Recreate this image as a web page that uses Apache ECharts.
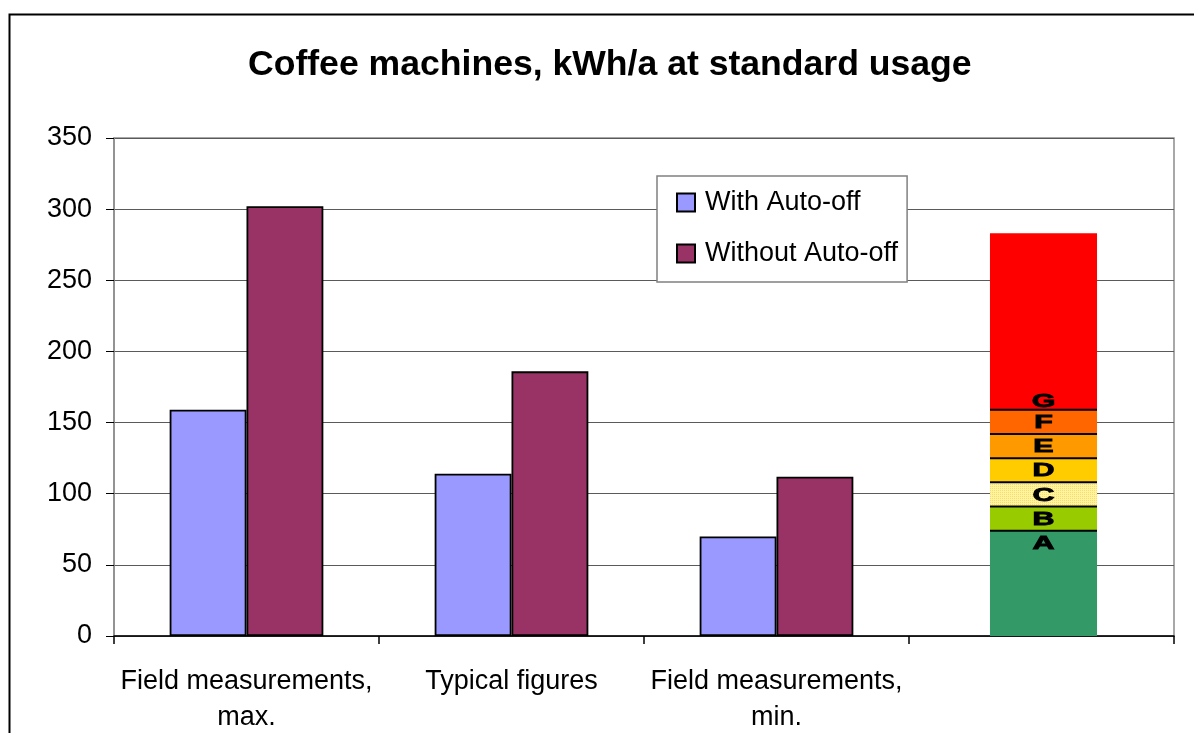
<!DOCTYPE html>
<html>
<head>
<meta charset="utf-8">
<script src="https://cdn.jsdelivr.net/npm/echarts@6/dist/echarts.min.js"></script>
<style>
html,body{margin:0;padding:0;background:#fff;}
#chart{width:1194px;height:733px;}
</style>
</head>
<body>
<div id="chart"></div>
<script>
// ---- data ----
const categories = ['Field measurements,\nmax.', 'Typical figures', 'Field measurements,\nmin.', ''];
const withAutoOff = [159, 114, 70, null];
const withoutAutoOff = [302, 186, 112, null];
const gradeLabels = ['A', 'B', 'C', 'D', 'E', 'F', 'G'];
const gradeValues = [74, 17, 17, 17, 17, 17, 124];
const gradeCategory = 3;
const yTicks = { min: 0, max: 350, interval: 50 };

// ---- styles ----
const FONT = '"Liberation Sans", Arial, sans-serif';
const gradeColors = ['#339966', '#99CC00', 'patternC', '#FFCC00', '#FF9900', '#FF6600', '#FF0000'];

function makePattern() {
  const c = document.createElement('canvas');
  c.width = 4; c.height = 4;
  const ctx = c.getContext('2d');
  ctx.fillStyle = '#FFF3A8';
  ctx.fillRect(0, 0, 4, 4);
  ctx.fillStyle = '#FFDD55';
  ctx.fillRect(0, 0, 1, 1); ctx.fillRect(2, 2, 1, 1);
  ctx.fillRect(2, 0, 1, 1); ctx.fillRect(0, 2, 1, 1);
  return { image: c, repeat: 'repeat' };
}
const patternC = makePattern();

// cumulative ranges for the grade stack
const gradeData = [];
let acc = 0;
gradeValues.forEach((v, i) => {
  gradeData.push([gradeCategory, acc, acc + v, i]);
  acc += v;
});

const chart = echarts.init(document.getElementById('chart'));
chart.setOption({
  animation: false,
  backgroundColor: '#fff',
  textStyle: { fontFamily: FONT },
  title: {
    text: 'Coffee machines, kWh/a at standard usage',
    left: 248,
    top: 47,
    padding: 0,
    textStyle: { fontFamily: FONT, fontSize: 35.6, fontWeight: 'bold', color: '#000' }
  },
  graphic: [{
    type: 'rect',
    left: 7, top: 12,
    shape: { width: 1210, height: 740 },
    style: { fill: 'none', stroke: '#000', lineWidth: 2 },
    silent: true
  }],
  legend: {
    orient: 'vertical',
    left: 657, top: 176,
    padding: [13, 9, 15, 19],
    itemGap: 24,
    itemWidth: 18, itemHeight: 18,
    backgroundColor: '#fff',
    borderColor: '#808080',
    borderWidth: 1.5,
    borderRadius: 0,
    icon: 'rect',
    textStyle: { fontFamily: FONT, fontSize: 27, color: '#000', padding: [0, 0, 0, 5] },
    data: ['With Auto-off', 'Without Auto-off']
  },
  grid: {
    left: 114, right: 20, top: 138, bottom: 97,
    outerBoundsMode: 'none',
    containLabel: false,
    show: true, borderColor: '#8c8c8c', borderWidth: 1.5, backgroundColor: '#fff'
  },
  xAxis: {
    type: 'category',
    data: categories,
    axisLine: { lineStyle: { color: '#000', width: 1.5 } },
    axisTick: { show: true, length: 8, lineStyle: { color: '#000', width: 1.5 } },
    axisLabel: {
      interval: 0, margin: 28, color: '#000',
      fontFamily: FONT, fontSize: 27, lineHeight: 36, align: 'center'
    },
    splitLine: { show: false }
  },
  yAxis: {
    type: 'value',
    min: yTicks.min, max: yTicks.max, interval: yTicks.interval,
    axisLine: { show: true, lineStyle: { color: '#8c8c8c', width: 1.5 } },
    axisTick: { show: true, length: 8, lineStyle: { color: '#000', width: 1 } },
    axisLabel: { margin: 22, color: '#000', fontFamily: FONT, fontSize: 27, padding: [3, 0, 0, 0] },
    splitLine: { show: true, lineStyle: { color: '#5a5a5a', width: 1 } }
  },
  series: [
    {
      name: 'With Auto-off', type: 'bar', data: withAutoOff,
      barWidth: '29%', barGap: '0%',
      itemStyle: { color: '#9999FF', borderColor: '#000', borderWidth: 1.8 }
    },
    {
      name: 'Without Auto-off', type: 'bar', data: withoutAutoOff,
      barWidth: '29%', barGap: '0%',
      itemStyle: { color: '#993366', borderColor: '#000', borderWidth: 1.8 }
    },
    {
      name: 'grades', type: 'custom',
      data: gradeData,
      z: 3,
      renderItem: function (params, api) {
        const cat = api.value(0), lo = api.value(1), hi = api.value(2), idx = api.value(3);
        const pLo = api.coord([cat, lo]);
        const pHi = api.coord([cat, hi]);
        const w = api.size([1, 0])[0] * 0.404;
        const cx = pLo[0] + 2;
        const x0 = cx - w / 2;
        const colorKey = gradeColors[idx];
        const fill = colorKey === 'patternC' ? patternC : colorKey;
        const children = [{
          type: 'rect',
          shape: { x: x0, y: pHi[1], width: w, height: pLo[1] - pHi[1] },
          style: { fill: fill }
        }];
        if (idx < gradeLabels.length - 1) {
          children.push({
            type: 'line',
            shape: { x1: x0, y1: pHi[1], x2: x0 + w, y2: pHi[1] },
            style: { stroke: '#000', lineWidth: 2 },
            z2: 10
          });
        }
        let ty;
        if (idx === 0) ty = pHi[1] + 12;
        else if (idx === gradeLabels.length - 1) ty = pLo[1] - 9;
        else ty = (pLo[1] + pHi[1]) / 2;
        children.push({
          type: 'text',
          x: cx, y: ty + 1,
          scaleX: 1.6,
          z2: 20,
          style: {
            text: gradeLabels[idx],
            x: 0, y: 0,
            align: 'center', verticalAlign: 'middle',
            fontFamily: FONT, fontSize: 19, fontWeight: 'bold',
            fill: '#000', stroke: '#000', lineWidth: 0.9
          }
        });
        return { type: 'group', children: children };
      }
    }
  ]
});
</script>
</body>
</html>
